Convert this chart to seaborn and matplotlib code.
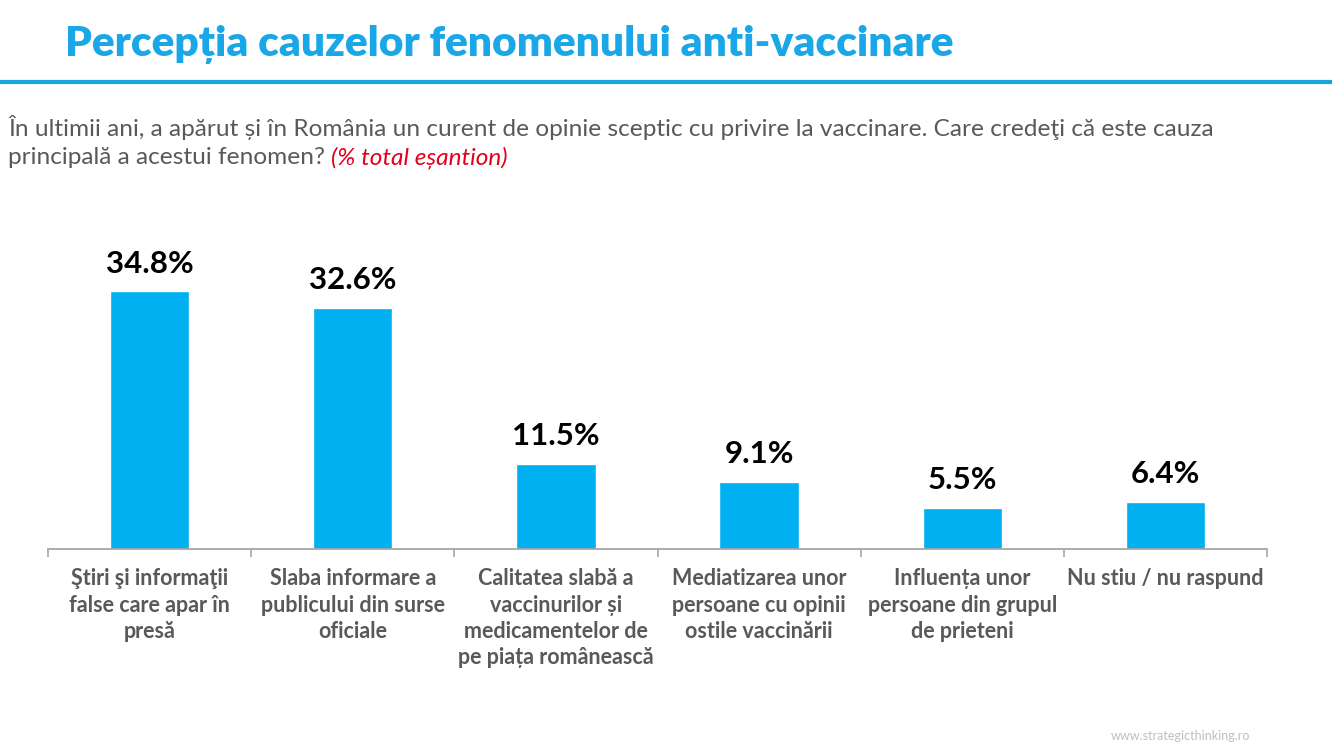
import numpy as np
import pandas as pd
import seaborn as sns
import matplotlib.pyplot as plt
from matplotlib.ticker import FixedLocator


categories = [
    "Ştiri şi informaţii\nfalse care apar în\npresă",
    "Slaba informare a\npublicului din surse\noficiale",
    "Calitatea slabă a\nvaccinurilor și\nmedicamentelor de\npe piața românească",
    "Mediatizarea unor\npersoane cu opinii\nostile vaccinării",
    "Influența unor\npersoane din grupul\nde prieteni",
    "Nu stiu / nu raspund",
]
values = [34.8, 32.6, 11.5, 9.1, 5.5, 6.4]
value_labels = ["34.8%", "32.6%", "11.5%", "9.1%", "5.5%", "6.4%"]

title = "Percepția cauzelor fenomenului anti-vaccinare"
subtitle_1 = "În ultimii ani, a apărut și în România un curent de opinie sceptic cu privire la vaccinare. Care credeţi că este cauza"
subtitle_2 = "principală a acestui fenomen? "
subtitle_red = "(% total eșantion)"
source = "www.strategicthinking.ro"

blue = "#00B0F0"
grey_text = "#595959"

sns.set_theme(style="white")
plt.rcParams['font.family'] = ['Lato', 'DejaVu Sans']

df = pd.DataFrame({"cat": categories, "val": values})

fig = plt.figure(figsize=(13.32, 7.5), dpi=100)
ax = fig.add_axes([48 / 1332, 201 / 750, 1219 / 1332, 296 / 750])

sns.barplot(data=df, x="cat", y="val", color=blue, width=0.39,
            saturation=1, ax=ax)

# etichete valori
for i, (v, lab) in enumerate(zip(values, value_labels)):
    ax.annotate(lab, (i, v), xytext=(0, 10), textcoords="offset points",
                ha="center", va="bottom", fontsize=22.5, fontweight="bold",
                color="black")

ax.set_xlim(-0.5, len(categories) - 0.5)
ax.set_ylim(0, 40)
ax.set_xlabel("")
ax.set_ylabel("")
ax.set_yticks([])

# axa x
for s in ["top", "right", "left"]:
    ax.spines[s].set_visible(False)
ax.spines["bottom"].set_color("#A6A6A6")
ax.spines["bottom"].set_linewidth(1.3)
ax.tick_params(axis="x", which="major", length=0, pad=14)
ax.xaxis.set_minor_locator(FixedLocator(np.arange(-0.5, len(categories), 1)))
ax.tick_params(axis="x", which="minor", length=6, width=1.2,
               color="#A6A6A6", bottom=True)
for t in ax.get_xticklabels():
    t.set_fontsize(15.5)
    t.set_fontweight("bold")
    t.set_color(grey_text)
    t.set_va("top")
    t.set_linespacing(1.3)

# titlu
fig.text(65 / 1332, 1 - 45 / 750, title, fontsize=30.5, fontweight="heavy",
         color="#1AA7E8", va="center", ha="left")
fig.add_artist(plt.Line2D([0, 1], [1 - 82 / 750, 1 - 82 / 750],
                          color="#1AA3E0", linewidth=3))

# subtitlu
fig.text(8 / 1332, 1 - 128 / 750, subtitle_1, fontsize=17.6, color=grey_text,
         va="center", ha="left")
t2 = fig.text(8 / 1332, 1 - 158 / 750, subtitle_2, fontsize=17.6,
              color=grey_text, va="center", ha="left")
renderer = fig.canvas.get_renderer()
bb = t2.get_window_extent(renderer=renderer)
fig.text(bb.x1 / fig.bbox.width, 1 - 158 / 750, subtitle_red, fontsize=17.6,
         color="#E3001B", style="italic", va="center", ha="left")

fig.text(1250 / 1332, 1 - 736 / 750, source, fontsize=9, color="#BFBFBF",
         ha="right", va="center")

fig.savefig("out.png", dpi=100)
